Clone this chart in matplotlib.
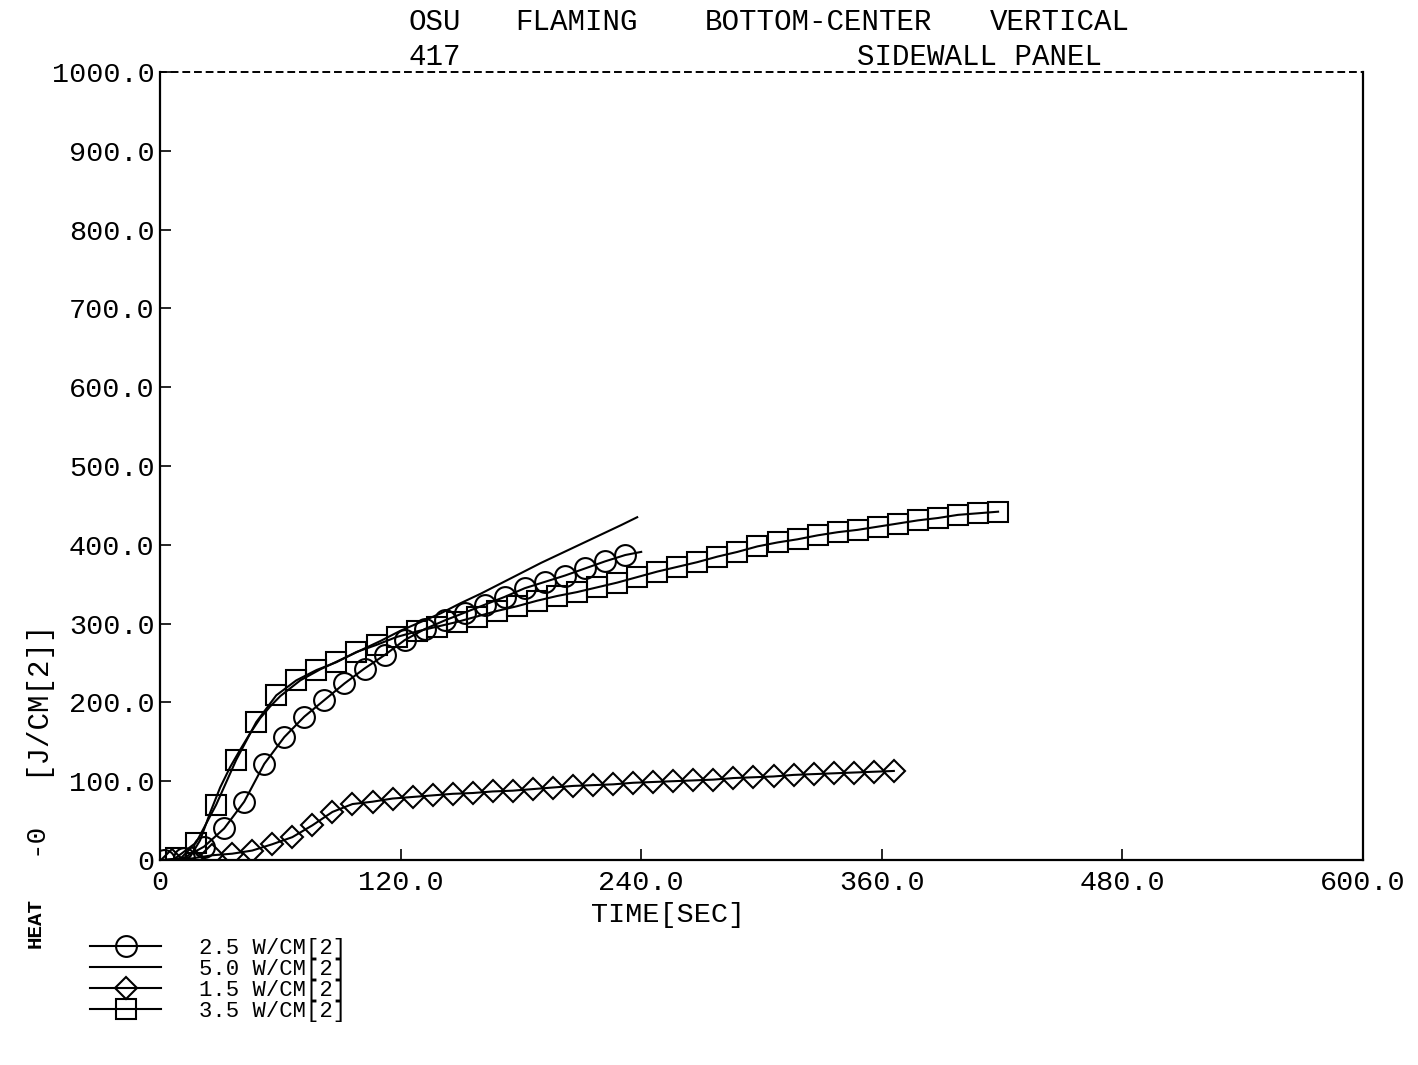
import matplotlib
matplotlib.use("Agg")
import matplotlib.pyplot as plt

plt.rcParams['font.family'] = ['Liberation Mono', 'DejaVu Sans Mono']

# 2.5 W/cm^2 exposure (circles)
t_25 = [2, 12, 22, 32, 42, 52, 62, 72, 82, 92, 102, 112, 122, 132, 142, 152,
        162, 172, 182, 192, 202, 212, 222, 232, 240]
q_25 = [0, 3, 17, 40, 74, 122, 156, 182, 203, 224, 243, 260, 279, 293, 304, 314,
        324, 334, 345, 353, 361, 370, 379, 387, 391]

# 5.0 W/cm^2 exposure (plain line)
t_50 = [0, 10, 15, 20, 25, 30, 35, 40, 45, 50, 55, 60, 70, 80, 90, 100, 110, 120,
        130, 140, 150, 160, 170, 180, 190, 200, 210, 220, 230, 238]
q_50 = [0, 1, 4, 25, 60, 92, 118, 140, 161, 180, 195, 208, 228, 242, 254, 266, 278,
        291, 302, 313, 326, 338, 351, 364, 377, 389, 401, 413, 425, 435]

# 1.5 W/cm^2 exposure (diamonds)
t_15 = [6, 16, 26, 36, 46, 56, 66, 76, 86, 96, 106, 116, 126, 136, 146, 156, 166,
        176, 186, 196, 206, 216, 226, 236, 246, 256, 266, 276, 286, 296, 306, 316,
        326, 336, 346, 356, 366]
q_15 = [0, 2, 6, 8, 12, 20, 29, 44, 61, 71, 74, 78, 80, 82, 84, 85, 87, 88, 90, 92,
        94, 95, 96, 98, 99, 100, 101, 102, 104, 105, 106, 108, 109, 110, 111, 112, 113]

# 3.5 W/cm^2 exposure (squares)
t_35 = [8, 18, 28, 38, 48, 58, 68, 78, 88, 98, 108, 118, 128, 138, 148, 158, 168,
        178, 188, 198, 208, 218, 228, 238, 248, 258, 268, 278, 288, 298, 308, 318,
        328, 338, 348, 358, 368, 378, 388, 398, 408, 418]
q_35 = [3, 22, 70, 127, 175, 209, 228, 241, 251, 264, 273, 283, 290, 296, 302, 309,
        316, 322, 329, 335, 340, 346, 352, 359, 366, 372, 378, 385, 391, 398, 403,
        407, 412, 416, 419, 423, 427, 431, 434, 438, 440, 442]

labels = ["2.5 W/CM[2]", "5.0 W/CM[2]", "1.5 W/CM[2]", "3.5 W/CM[2]"]

x_ticks = [0, 120, 240, 360, 480, 600]
x_ticklabels = ["0", "120.0", "240.0", "360.0", "480.0", "600.0"]
y_ticks = [0, 100, 200, 300, 400, 500, 600, 700, 800, 900, 1000]
y_ticklabels = ["0", "100.0", "200.0", "300.0", "400.0", "500.0", "600.0",
                "700.0", "800.0", "900.0", "1000.0"]

W, H = 1418, 1065
fig = plt.figure(figsize=(W / 100, H / 100), dpi=100)
ax = fig.add_axes([160 / W, 1 - 860 / H, (1363 - 160) / W, (860 - 72) / H])

lw = 1.5
mew = 1.5
common = dict(color="black", lw=lw, mfc="none", mec="black", mew=mew)

ax.plot(t_25, q_25, marker="o", ms=15, markevery=slice(0, len(t_25) - 1),
        label=labels[0], **common)
ax.plot(t_50, q_50, label=labels[1], **common)
ax.plot(t_15, q_15, marker="D", ms=11, label=labels[2], **common)
ax.plot(t_35, q_35, marker="s", ms=14.5, label=labels[3], **common)

ax.set_xlim(0, 600)
ax.set_ylim(0, 1000)
ax.set_xticks(x_ticks)
ax.set_xticklabels(x_ticklabels)
ax.set_yticks(y_ticks)
ax.set_yticklabels(y_ticklabels)
ax.tick_params(direction="in", length=8, width=1.2, labelsize=20.5, colors="black")
ax.tick_params(axis="x", pad=7)
ax.tick_params(axis="y", pad=4)

for side in ("left", "bottom", "right"):
    ax.spines[side].set_linewidth(1.6)
ax.spines["top"].set_linewidth(1.4)
ax.spines["top"].set_linestyle((0, (3, 3)))

# axis titles
fig.text(668 / W, 1 - 915 / H, "TIME[SEC]", fontsize=20.5, ha="center", va="center")
fig.text(35 / W, 1 - 923 / H, "HEAT", rotation=90, fontsize=15, fontweight="bold",
         ha="center", va="center")
fig.text(35 / W, 1 - 838 / H, "-0", rotation=90, fontsize=20,
         ha="center", va="center")
fig.text(35 / W, 1 - 697 / H, "[J/CM[2]]", rotation=90, fontsize=21,
         ha="center", va="center")

# plot heading
fs_title = 21
for word, xpx, ypx in [("OSU", 408, 22), ("FLAMING", 515, 22),
                       ("BOTTOM-CENTER", 705, 22), ("VERTICAL", 990, 22),
                       ("417", 409, 57), ("SIDEWALL PANEL", 857, 57)]:
    fig.text(xpx / W, 1 - ypx / H, word, fontsize=fs_title, ha="left", va="center")

leg = ax.legend(loc="upper left", bbox_to_anchor=(90 / W, 1 - 938 / H),
                bbox_transform=fig.transFigure, frameon=False, fontsize=16,
                handlelength=3.2, handletextpad=1.7, labelspacing=0.0,
                borderpad=0, borderaxespad=0)

fig.savefig("out.png", dpi=100)
